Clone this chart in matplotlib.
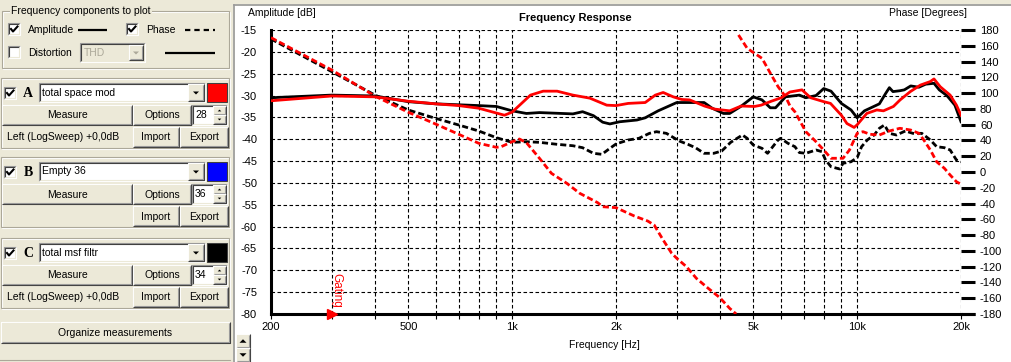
import numpy as np
import matplotlib
matplotlib.use("Agg")
import matplotlib.pyplot as plt
from matplotlib.patches import Rectangle, Polygon

plt.rcParams["font.family"] = ["Liberation Sans", "DejaVu Sans"]
plt.rcParams["axes.unicode_minus"] = False

# --- measurement A (red): amplitude [dB] and phase [deg]
red_amp_freq = [200, 300, 400, 500, 600, 700, 800, 900, 950, 1000, 1130, 1230, 1350, 1500,
                1680, 1880, 2000, 2170, 2430, 2600, 2740, 2930, 3100, 3270, 3610, 3860, 4270,
                4610, 5040, 5270, 5640, 6030, 6380, 6920, 7330, 8000, 8370, 9000, 9340, 9800,
                10000, 10660, 11400, 11920, 12740, 13320, 14260, 15260, 16290, 16700, 17420,
                18600, 19400, 20000]
red_amp = [-31.2, -30.1, -30.3, -31.3, -31.9, -32.3, -32.9, -34.0, -34.5, -33.8, -29.9, -29.0,
           -29.0, -29.9, -30.6, -32.2, -32.3, -31.8, -31.6, -29.9, -29.3, -30.3, -30.9, -31.0,
           -32.4, -33.1, -33.5, -32.4, -32.5, -32.2, -31.3, -30.5, -29.2, -28.7, -30.5, -31.4,
           -31.8, -34.5, -36.4, -37.3, -36.7, -34.1, -33.3, -33.5, -32.5, -31.0, -29.1, -27.6,
           -26.8, -26.2, -28.0, -29.9, -32.2, -34.5]
red_phase_freq = [200, 300, 400, 500, 600, 700, 800, 900, 930, 1000, 1050, 1100, 1200, 1300,
                  1440, 1570, 1770, 1830, 2000, 2260, 2470, 2580, 2740, 2900, 3000, 3200, 3420,
                  3700, 4000, 4270, 4460, 4530, 4800, 5300, 5640, 5900, 6200, 6400, 6600, 7100,
                  7600, 8000, 8400, 9100, 9500, 10000, 10400, 10900, 11600, 12400, 13300,
                  14300, 15100, 15600, 16300, 17000, 17900, 18600, 19400, 20000]
red_phase = [170.3, 129.3, 96.3, 75.7, 60.8, 47.8, 36.4, 31.3, 32.1, 38.4, 41.8, 37.2, 17.4,
             -1.7, -14.3, -27.0, -38.9, -44.0, -45.2, -55.8, -62.1, -67.2, -86.2, -103.0,
             -109.4, -120.0, -134.8, -147.4, -159.3, -172.8, -180.0, 173.7, 156.8, 144.1,
             123.0, 108.1, 95.5, 83.0, 76.4, 51.1, 38.4, 27.9, 17.4, 17.4, 27.9, 49.0, 51.1,
             47.8, 46.9, 52.0, 55.4, 53.2, 49.0, 40.6, 27.9, 13.0, 4.7, -3.8, -12.3, -15.6]

# --- measurement C (black)
black_amp_freq = [200, 300, 400, 500, 600, 800, 900, 1000, 1100, 1200, 1500, 1600, 1720, 1830,
                  1920, 2050, 2300, 2430, 2650, 3000, 3270, 3600, 3800, 4100, 4270, 4600, 5000,
                  5300, 5600, 5800, 6200, 6800, 7100, 7600, 8000, 8400, 9000, 9600, 10000,
                  10500, 10900, 11600, 12100, 12400, 12700, 13300, 13700, 14300, 15100, 15800,
                  16700, 17300, 18200, 19200, 20000]
black_amp = [-30.5, -29.9, -30.1, -31.4, -31.9, -32.3, -32.5, -33.5, -34.1, -33.9, -34.2, -33.7,
             -34.6, -36.1, -36.5, -36.0, -35.6, -35.1, -33.5, -31.6, -31.6, -31.6, -32.9, -34.1,
             -34.1, -32.5, -30.3, -31.0, -32.8, -32.8, -30.3, -29.9, -30.5, -30.0, -28.4, -29.0,
             -31.8, -33.3, -35.1, -33.5, -32.9, -31.9, -29.5, -28.2, -29.1, -28.9, -28.7, -27.8,
             -28.1, -27.4, -27.2, -28.7, -30.0, -32.2, -36.0]
black_phase_freq = [200, 300, 400, 500, 600, 700, 800, 900, 1000, 1100, 1200, 1350, 1500, 1600,
                    1720, 1820, 1920, 2000, 2170, 2330, 2500, 2620, 2800, 3050, 3230, 3400,
                    3600, 3840, 4050, 4300, 4650, 4800, 5000, 5300, 5500, 5900, 6000, 6300,
                    6600, 6800, 7100, 7600, 7900, 8100, 8400, 8900, 9100, 9600, 10000, 10300,
                    10700, 11200, 11600, 12000, 12400, 13000, 13800, 14500, 15400, 16300,
                    17000, 17900, 18600, 19400, 20000]
black_phase = [168.6, 127.2, 97.6, 78.6, 68.0, 59.6, 52.0, 43.5, 37.6, 38.4, 37.6, 35.1, 33.3,
               30.8, 23.7, 22.4, 30.0, 35.5, 40.6, 42.7, 49.0, 51.1, 49.0, 39.3, 35.1, 30.8,
               23.7, 23.7, 26.6, 37.6, 46.9, 42.7, 34.2, 30.0, 23.7, 40.6, 42.7, 36.4, 32.1,
               24.6, 23.7, 27.9, 25.8, 15.2, 6.7, 3.8, 11.0, 13.0, 18.2, 32.1, 40.6, 46.9,
               55.4, 59.6, 49.0, 46.9, 52.0, 49.0, 49.0, 40.6, 32.1, 30.8, 27.9, 15.2, 13.0]

freq_ticks = [200, 500, 1000, 2000, 5000, 10000, 20000]
freq_labels = ["200", "500", "1k", "2k", "5k", "10k", "20k"]
gating_freq = 300

measurements = [
    ("A", "total space mod", "#FF0000", "28", True),
    ("B", "Empty 36", "#0000FF", "36", False),
    ("C", "total msf filtr", "#000000", "34", True),
]

BEIGE = "#ECE9D8"
W, H = 1011, 362


def wrap_break(freq, phase):
    # put a gap where the phase wraps from -180 to +180
    f = np.array(freq, float)
    p = np.array(phase, float)
    jumps = np.where(np.abs(np.diff(p)) > 180)[0] + 1
    return np.insert(f, jumps, np.nan), np.insert(p, jumps, np.nan)


def rect(ax, x0, y0, x1, y1, face, edge="none", lw=0.75):
    ax.add_patch(Rectangle((x0, y0), x1 - x0, y1 - y0, facecolor=face, edgecolor=edge, lw=lw))


def bevel(ax, x0, y0, x1, y1, light, dark):
    ax.plot([x0, x0, x1], [y1, y0, y0], color=light, lw=0.8, solid_capstyle="butt")
    ax.plot([x0, x1, x1], [y1, y1, y0], color=dark, lw=0.8, solid_capstyle="butt")


def button(ax, x0, y0, x1, y1, label=None):
    rect(ax, x0, y0, x1, y1, BEIGE)
    bevel(ax, x0, y0, x1, y1, "white", "#404040")
    bevel(ax, x0 + 1, y0 + 1, x1 - 1, y1 - 1, BEIGE, "#9A9A9A")
    if label:
        ax.text((x0 + x1) / 2, (y0 + y1) / 2 + 0.5, label, ha="center", va="center", fontsize=7.5)


def field(ax, x0, y0, x1, y1, face="white"):
    rect(ax, x0, y0, x1, y1, face)
    bevel(ax, x0, y0, x1, y1, "#9A9A9A", "white")
    bevel(ax, x0 + 1, y0 + 1, x1 - 1, y1 - 1, "#404040", BEIGE)


def arrow(ax, cx, cy, down=True, color="black", s=3.5):
    d = 1 if down else -1
    ax.add_patch(Polygon([(cx - s, cy - d * s / 2), (cx + s, cy - d * s / 2), (cx, cy + d * s / 2)],
                         closed=True, facecolor=color, edgecolor="none"))


def checkbox(ax, x0, y0, checked=True):
    field(ax, x0, y0, x0 + 12, y0 + 12)
    if checked:
        ax.plot([x0 + 3, x0 + 5, x0 + 9.5], [y0 + 6, y0 + 8.5, y0 + 3.5], color="black", lw=1.5)


def etched(ax, x0, y0, x1, y1):
    ax.add_patch(Rectangle((x0 + 1, y0 + 1), x1 - x0, y1 - y0, facecolor="none", edgecolor="white", lw=0.8))
    ax.add_patch(Rectangle((x0, y0), x1 - x0, y1 - y0, facecolor="none", edgecolor="#ACA899", lw=0.8))


fig = plt.figure(figsize=(W / 100, H / 100), dpi=100, facecolor=BEIGE)

# pixel-space layer for the dialog widgets
ui = fig.add_axes([0, 0, 1, 1], zorder=0)
ui.set_xlim(0, W)
ui.set_ylim(H, 0)
ui.axis("off")

# chart panel background
rect(ui, 235, 6, W, H, "white")
ui.plot([234, 234], [5, H], color="#9A9A9A", lw=1.2)
ui.plot([234, W], [5, 5], color="#9A9A9A", lw=1.2)

# group box "Frequency components to plot"
etched(ui, 2, 11, 229, 68)
ui.text(11, 11, "Frequency components to plot", va="center", fontsize=7.5,
        bbox=dict(facecolor=BEIGE, edgecolor="none", pad=1))
checkbox(ui, 8, 23)
ui.text(28, 30, "Amplitude", va="center", fontsize=7.5)
ui.plot([78, 107], [30, 30], color="black", lw=1.6, solid_capstyle="butt")
checkbox(ui, 126, 23)
ui.text(146, 30, "Phase", va="center", fontsize=7.5)
ui.plot([185, 215], [30, 30], color="black", lw=1.6, linestyle=(0, (2.4, 1.8)))
checkbox(ui, 8, 46, checked=False)
ui.text(28, 53, "Distortion", va="center", fontsize=7.5)
field(ui, 80, 43, 145, 62, face=BEIGE)
ui.text(84, 53, "THD", va="center", fontsize=7.5, color="#ACA899")
button(ui, 129, 45, 143, 60)
arrow(ui, 136, 53, color="#ACA899", s=3)
ui.plot([165, 215], [53, 53], color="black", lw=1.6, solid_capstyle="butt")

# measurement panels
for (letter, name, color, num, has_info), top in zip(measurements, [80, 159, 240]):
    etched(ui, 1, top - 2, 229, top + 68)
    checkbox(ui, 4, top + 7)
    ui.text(28, top + 13.5, letter, ha="center", va="center", fontsize=10, fontweight="bold",
            family="Liberation Serif")
    field(ui, 39, top + 3, 205, top + 22)
    ui.text(42, top + 12.5, name, va="center", fontsize=7.5)
    button(ui, 188, top + 4, 204, top + 21)
    arrow(ui, 196, top + 13, s=3)
    rect(ui, 207, top + 3, 227, top + 22, color, edge="#404040")
    button(ui, 2, top + 25, 132, top + 45, "Measure")
    button(ui, 133, top + 25, 191, top + 45, "Options")
    field(ui, 192, top + 25, 227, top + 45)
    ui.text(195, top + 35, num, va="center", fontsize=7.5)
    button(ui, 213, top + 26, 226, top + 35)
    arrow(ui, 219.5, top + 30.5, down=False, s=1.8)
    button(ui, 213, top + 35, 226, top + 44)
    arrow(ui, 219.5, top + 39.5, s=1.8)
    if has_info:
        ui.text(7, top + 57, "Left (LogSweep) +0,0dB", va="center", fontsize=7.5)
    button(ui, 133, top + 47, 179, top + 67, "Import")
    button(ui, 180, top + 47, 228, top + 67, "Export")

button(ui, 1, 322, 230, 343, "Organize measurements")
ui.plot([0, 230], [360, 360], color="#ACA899", lw=0.8)

# scroll buttons under the y axis
button(ui, 236, 334, 250, 348)
arrow(ui, 243, 341, down=False, s=3.5)
button(ui, 236, 348, 250, 362)
arrow(ui, 243, 355, s=3.5)

# chart texts
ui.text(248, 13, "Amplitude [dB]", va="center", fontsize=7.5)
ui.text(967, 13, "Phase [Degrees]", va="center", ha="right", fontsize=7.5)
ui.text(575, 18, "Frequency Response", va="center", ha="center", fontsize=8, fontweight="bold")
ui.text(604, 345, "Frequency [Hz]", va="center", ha="center", fontsize=7.5)
ui.plot([961, 975], [314, 314], color="black", lw=2.2, solid_capstyle="butt")
ui.text(336, 290, "Gating", rotation=-90, color="#FF0000", fontsize=8.5,
        ha="center", va="center")

# --- chart axes
ax = fig.add_axes([271 / W, 1 - 314 / H, 690 / W, 284 / H], zorder=2)
ax.patch.set_alpha(0)
ax.set_xscale("log")
ax.set_xlim(200, 20000)
ax.set_ylim(-80, -15)
ax.set_xticks(freq_ticks)
ax.set_xticklabels(freq_labels)
ax.set_xticks([f * m for f in (100, 1000) for m in range(2, 10)
               if 200 <= f * m <= 20000 and f * m not in freq_ticks], minor=True)
ax.set_xticklabels([], minor=True)
ax.set_yticks(np.arange(-80, -14, 5))
ax.grid(True, which="both", color="black", lw=0.8, linestyle=(0, (3.2, 2.2)))
ax.tick_params(axis="x", which="both", direction="out", length=3.5, width=0.8, pad=2.5, labelsize=8)
ax.tick_params(axis="y", length=0, pad=10, labelsize=8)
for s in ("top", "right"):
    ax.spines[s].set_visible(False)
for s in ("left", "bottom"):
    ax.spines[s].set_linewidth(2.2)

ax2 = ax.twinx()
ax2.set_ylim(-180, 180)
ax2.set_yticks(np.arange(-180, 181, 20))
ax2.tick_params(axis="y", direction="out", length=10, width=2.2, pad=3.6, labelsize=8)
for s in ax2.spines.values():
    s.set_visible(False)

dash = (0, (2.2, 1.1))
rp_f, rp = wrap_break(red_phase_freq, red_phase)
bp_f, bp = wrap_break(black_phase_freq, black_phase)
ax2.plot(bp_f, bp, color="black", lw=2, linestyle=dash)
ax2.plot(rp_f, rp, color="#FF0000", lw=2, linestyle=dash)
ax2.plot(black_amp_freq, [180 + (a + 15) * 360 / 65 for a in black_amp], color="black", lw=2)
ax2.plot(red_amp_freq, [180 + (a + 15) * 360 / 65 for a in red_amp], color="#FF0000", lw=2)

# gating marker
ax.plot([gating_freq], [-80], marker=">", color="#FF0000", ms=7, clip_on=False, zorder=5)

fig.savefig("out.png", dpi=100, facecolor=BEIGE)
